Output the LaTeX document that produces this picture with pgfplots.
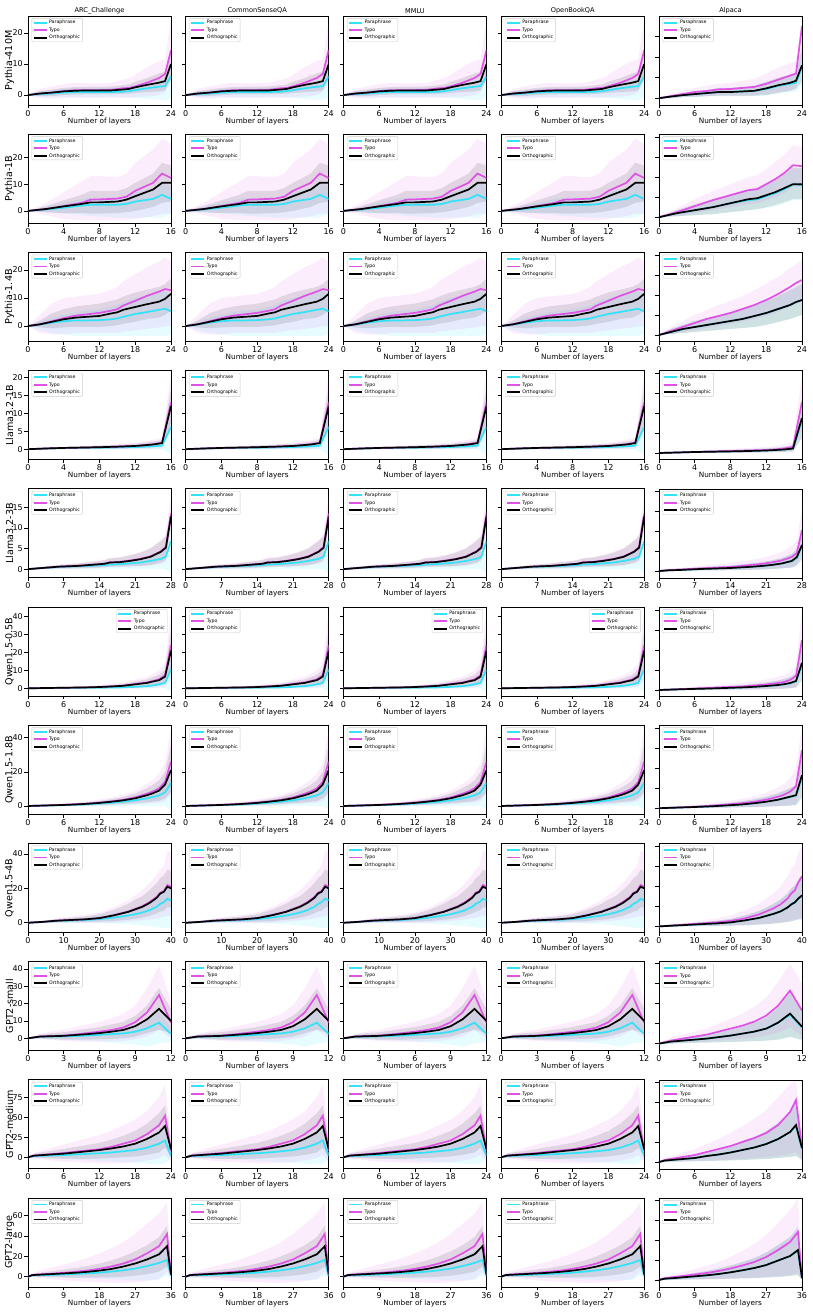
\documentclass[border=0pt]{standalone}
\usepackage{fontspec}
\setmainfont{DejaVu Sans}
\usepackage{pgfplots}
\usepackage{pgfplotstable}
\pgfplotsset{compat=1.18}
\usepgfplotslibrary{groupplots,fillbetween}
\definecolor{pcol}{HTML}{30E3F8}
\definecolor{tcol}{HTML}{E051E6}

% ---------- data: x p pl pu t tl tu o ol ou ----------
\pgfplotstableread{
x p pl pu t tl tu o ol ou
0 0 0 0 0 0 0 0 0 0
2 0.3 -0.5 1.2 0.5 -1 2 0.5 -0.3 1.3
4 0.5 -0.7 1.6 0.8 -1.2 2.8 0.8 -0.3 1.8
6 0.8 -0.6 2.0 1.3 -1 3.5 1.2 0 2.3
8 1.0 -0.6 2.2 1.6 -0.9 4 1.4 0.2 2.6
10 1.0 -0.6 2.2 1.6 -0.9 3.8 1.5 0.3 2.7
12 1.0 -0.6 2.2 1.6 -0.9 3.8 1.5 0.3 2.7
14 1.0 -0.6 2.3 1.7 -0.8 4 1.5 0.3 2.8
16 1.1 -0.7 2.5 2.2 -0.8 5 1.8 0.4 3.2
17 1.3 -0.8 2.7 2.3 -0.8 5.5 2.0 0.5 3.5
18 1.6 -1 3.2 2.8 -0.6 6.5 2.5 0.7 4.3
20 2.2 -1.3 4.0 4.0 -0.5 9 3.3 1 5.5
22 2.7 -1.5 4.8 5.5 0 11 4.0 1.2 7
23 2.9 -1.6 5.0 6.8 1 11.5 4.5 1.5 7.5
24 6.0 -1.0 9.5 14.5 5 24 10.0 5 15
}\TabRa
\pgfplotstableread{
x p pl pu t tl tu o ol ou
0 0 0 0 0 0 0 0 0 0
2 0.5 -0.5 1.5 0.7 -1.5 3 0.7 -0.5 1.8
4 1.2 -1 3 1.8 -3 7 1.7 -0.8 4
6 2 -1.5 4.5 3 -3.5 11 2.6 -0.8 6
7 2.3 -2 5 4.2 -3.5 13 3.2 -1 7.5
8 2.3 -2 5 4.3 -3.5 13 3.2 -1 7.5
10 2.3 -2.5 5 4.6 -3.5 12.5 3.5 -0.8 7.5
11 2.6 -2.5 5.5 5.3 -3.5 14 4.2 -0.5 8.5
12 3.5 -2.5 7 7.5 -3 18 5.5 0 10.5
14 4.5 -2.5 8.5 10.5 -2 23 8 1.5 14
15 6 -2.5 11 14 -1 27 10.5 3 18
16 4.5 -1 9 12.3 -1 25 10.5 3.5 17
}\TabRb
\pgfplotstableread{
x p pl pu t tl tu o ol ou
0 0 0 0 0 0 0 0 0 0
2 0.5 -1.5 1.5 0.6 -2.5 4 0.6 -0.5 2
4 1.2 -2.5 3 1.7 -3 8 1.5 -0.8 4.5
6 1.7 -3 4 2.8 -3 10 2.4 -0.5 6
8 2.0 -3.5 5 3.7 -2.5 10.5 3.0 -0.3 7
10 2.0 -3.5 5.5 4.2 -2.5 11 3.3 -0.3 7.5
12 2.1 -3.5 6 4.7 -2.5 11.5 3.6 -0.3 8
14 2.4 -3.5 7 5.5 -2.5 13 4.5 0 9
15 2.7 -3.5 7.5 6 -2.5 14 4.9 0.3 9.5
16 3.3 -3.5 8.5 7.3 -2 16 5.8 0.8 10.5
18 4.3 -3.5 10 9 -1.5 18.5 6.8 1.5 12
20 5.0 -3.5 11 10.8 -1 21 7.8 2.5 13
22 5.8 -3.5 12 12.3 -0.5 23 8.7 3 14
23 6.2 -3.5 12.5 13.2 0 24.5 9.7 4 15
24 5.2 -3 11 12.8 0 23 11.5 5.5 17
}\TabRc
\pgfplotstableread{
x p pl pu t tl tu o ol ou
0 0 0 0 0 0 0 0 0 0
2 0.15 0 0.25 0.2 0 0.4 0.2 0.05 0.3
4 0.3 0 0.5 0.35 0 0.7 0.35 0.1 0.6
6 0.35 0 0.6 0.45 0 0.9 0.45 0.1 0.8
8 0.4 0 0.7 0.55 0 1.1 0.55 0.15 1
10 0.5 0 0.8 0.7 0 1.4 0.7 0.2 1.2
12 0.6 0 1.0 0.9 0 1.8 0.9 0.3 1.5
13 0.7 0 1.1 1.1 0 2.2 1.1 0.4 1.8
14 0.8 0 1.3 1.4 0.1 2.6 1.3 0.5 2.1
15 1.0 0 1.6 1.8 0.2 3.2 1.7 0.7 2.6
16 6.2 -1.5 10 13 5 21 12 7 17
}\TabRd
\pgfplotstableread{
x p pl pu t tl tu o ol ou
0 0 0 0 0 0 0 0 0 0
2 0.2 0 0.3 0.2 0 0.5 0.2 0.05 0.4
4 0.35 0 0.6 0.4 0.05 0.8 0.4 0.1 0.7
6 0.5 0 0.8 0.6 0.1 1.1 0.6 0.2 1
8 0.6 0 1 0.7 0.1 1.3 0.7 0.2 1.2
10 0.7 0 1.1 0.85 0.15 1.5 0.8 0.25 1.4
12 0.8 0 1.3 1.0 0.2 1.8 1.0 0.3 1.7
14 0.9 0 1.5 1.2 0.3 2.1 1.2 0.4 2
15 1.0 0 1.6 1.35 0.35 2.3 1.3 0.45 2.2
16 1.1 0 1.8 1.65 0.5 2.7 1.6 0.6 2.6
18 1.2 0 2 1.75 0.55 3 1.7 0.65 2.8
20 1.4 0 2.3 2.1 0.6 3.5 2.0 0.7 3.3
22 1.6 0 2.7 2.5 0.7 4.2 2.4 0.8 4
24 2.0 0 3.3 3.1 0.9 5.2 3.0 1.0 5
26 2.5 0 4.3 4.3 1.3 7 4.2 1.6 6.8
27 3.0 0 5.3 5.4 1.8 8.5 5.2 2.3 8
28 6.8 -1 10 13.5 10 18 12.8 11 14.5
}\TabRe
\pgfplotstableread{
x p pl pu t tl tu o ol ou
0 0 0 0 0 0 0 0 0 0
2 0.05 0 0.1 0.1 0 0.3 0.1 0 0.2
4 0.1 0 0.2 0.2 0 0.5 0.2 0 0.4
6 0.15 0 0.3 0.3 0 0.7 0.3 0.05 0.6
8 0.2 0 0.4 0.45 0 1 0.4 0.1 0.8
10 0.25 0 0.5 0.55 0 1.3 0.5 0.1 1
12 0.3 0 0.6 0.75 0 1.7 0.7 0.15 1.3
14 0.4 0 0.8 1.1 0 2.3 1.0 0.2 1.8
16 0.5 0 1 1.5 0 3.2 1.4 0.3 2.5
18 0.8 0 1.5 2.4 0 4.8 2.2 0.6 3.8
20 1.2 0 2.2 3.3 0 6.5 3.0 1 5
21 1.6 0 2.9 4.1 0.3 8 3.8 1.4 6.2
22 2.2 0 3.8 5 0.5 10 4.5 1.6 7.5
23 3.0 0 5 7.2 1 14 6.5 2.5 10.5
24 10.5 -2 17 24 5 43 21 10 32
}\TabRf
\pgfplotstableread{
x p pl pu t tl tu o ol ou
0 0 0 0 0 0 0 0 0 0
2 0.15 0 0.3 0.2 0 0.5 0.2 0 0.4
4 0.3 0 0.6 0.45 0 1 0.4 0.05 0.8
6 0.5 0 0.9 0.7 0 1.5 0.6 0.1 1.2
8 0.7 0 1.3 1.0 0 2 0.9 0.2 1.6
10 1.0 0 1.8 1.4 0.1 2.8 1.3 0.3 2.2
12 1.4 0 2.5 2.0 0.2 3.8 1.8 0.5 3
14 1.9 0 3.3 2.7 0.4 5 2.5 0.8 4
16 2.5 0 4.3 3.6 0.7 6.5 3.3 1.2 5.3
18 3.3 0 5.8 5.0 1 9 4.5 1.6 7.3
20 4.5 0 8 7.2 1.5 13 6.3 2.2 10.5
21 5.3 0 9.5 8.5 1.8 15.5 7.5 2.6 12.5
22 6.2 0 11 10.3 2 19 9 3 15
23 8.0 0 14 14 3 25 12.5 4.5 20
24 13.5 -2.4 23 26 7 45 21 8 36
}\TabRg
\pgfplotstableread{
x p pl pu t tl tu o ol ou
0 0 0 0 0 0 0 0 0 0
4 0.4 0 0.8 0.5 0 1.2 0.5 0.1 1
8 1 0 1.8 1.2 0 2.5 1.2 0.3 2.2
12 1.3 0 2.4 1.6 0 3.5 1.6 0.4 3
16 1.6 0 3 2 0 4.5 2 0.5 3.7
20 2.1 0 4 2.7 0 6 2.7 0.7 5
24 3.0 -0.5 5.5 4.4 0 9 4.3 1 7.5
28 4.2 -1 7.5 6.5 0.5 13 6.3 1.8 11
30 5 -1.2 9 8 1 16 7.8 2.2 13.5
32 6 -1.5 10.5 9.6 1.5 19 9.3 3 15.5
34 7.3 -2 12.5 12 2 23 11.5 4 19
36 9.3 -2.5 15.5 15 2.5 28 14.5 5.5 23
37 11 -2.8 18 17.5 3 31 17 6.5 26
38 12 -3 19 18.5 3.5 33 18 7 27.5
39 14 -3.2 22 22 4 42 21 9 31
40 13 -3 21 21 4 41 20 9 30
}\TabRh
\pgfplotstableread{
x p pl pu t tl tu o ol ou
0 0 0 0 0 0 0 0 0 0
1 0.8 -0.2 1.7 1 -0.5 2.5 1 0 2
2 1 -0.5 2.2 1.3 -1 4 1.2 -0.5 3
3 1.1 -0.8 2.5 1.6 -1.5 5 1.4 -0.8 3.5
4 1.3 -1.2 3 2.2 -2 6.5 1.9 -0.8 4.5
5 1.6 -1.5 3.6 3 -2 8 2.4 -0.8 5.5
6 2 -1.8 4.3 3.8 -2 9.5 3 -0.5 6.5
7 2.4 -2.5 5 4.8 -1.8 11.5 3.8 -0.3 8
8 2.8 -3 5.8 6.2 -1.5 14 4.8 0 9.5
9 3.8 -3.5 7.5 9.3 -0.5 19 7 1 13
10 5.8 -4.8 11 15 1 29 11 3 19
11 9 -3 16 25 5 42 17 5 29
12 2.5 -2 6 9 0 22 10 3 17
}\TabRi
\pgfplotstableread{
x p pl pu t tl tu o ol ou
0 0 0 0 0 0 0 0 0 0
1 1.5 0 3 2 -1.5 5 2 -0.5 4.5
2 1.8 -0.5 3.5 2.8 -2 7.5 2.5 -1 6
4 2.3 -1.2 4.5 4 -4 12 3.5 -1.5 8
6 2.8 -2 5.5 5.3 -5.5 16 4.5 -2 10.5
8 3.5 -2.8 7 7 -6 20 6 -2 13
10 4.3 -3.5 8.5 8.5 -7 24 7.5 -2 15.5
12 5 -4.5 10 10 -7.5 28 9 -1.5 18
14 6 -5 12 13 -7.5 33 11 -1 22
16 7.5 -6 15 17 -7 40 13.5 0 27
18 9 -7 18 21 -6 47 17 1 33
20 12 -8 23 29 -4 58 23 3 42
22 17 -9 32 40 -1 75 31 6 55
23 21 -8 39 52 3 91 39 12 65
24 2 -2 5 8 -5 25 10 0 20
}\TabRj
\pgfplotstableread{
x p pl pu t tl tu o ol ou
0 0 0 0 0 0 0 0 0 0
1 1.2 0 2 1.5 -0.5 3 1.5 0.3 2.5
2 1.4 0 2.5 2 -1 5 1.8 0 3.5
4 1.6 -0.2 3 2.5 -1.5 7 2.2 -0.3 4.5
6 1.8 -0.5 3.5 3 -2.5 9 2.6 -0.5 5.5
9 2.2 -0.8 4.5 3.8 -3.5 12 3.2 -0.8 7
12 2.7 -1 5.5 4.8 -4.5 15 3.9 -1 8.5
15 3.3 -1.5 7 6 -5 18.5 4.8 -1 10.5
18 4 -2 8.5 7.8 -5.5 23 6 -0.8 13
21 5 -2.5 10.5 10 -6 28 7.6 -0.5 16
24 6.3 -3 13 13 -6 34 10 0 20
27 8 -3.5 16 17 -5.5 42 13 1 25
30 10.5 -3.5 20 23 -4.5 52 17 2.5 31
33 13.5 -3 25 30 -2 62 22 5 39
35 16.5 1 30 42 5 73 30 10 50
36 1 -1 3 3 -2 10 2 0 6
}\TabRk
% ---------- Alpaca ----------
\pgfplotstableread{
x p pl pu t tl tu o ol ou
0 0 0 0 0 0 0 0 0 0
2 0.8 0 1.5 1 0 2 0.8 0 1.5
4 1.5 0.5 2.5 2 0.5 3.5 1.5 0.5 2.5
6 2 0.5 3.5 3 1 5 2 0.5 3.5
8 2.5 1 4 3.5 1 6 2.5 1 4
10 3 1 5 4.3 1.5 7 3 1 5
12 3 1 5 4.5 1.5 7.5 3 1 5
14 3.3 1 5.5 5 1.5 8.5 3.3 1 5.5
16 3.5 1 6 5.5 1.5 9.5 3.6 1.2 6
18 4.5 1.2 7.8 7 2 12 4.8 1.5 8
20 6 2.5 9.5 9 3 15 6.3 2.5 10
22 7 3 11 11 4 17 7.5 3.5 11.5
23 7.5 3 12 12 5 18 8.5 4.5 12.5
24 15 6 24 35 20 38 16 8 25
}\TabAa
\pgfplotstableread{
x p pl pu t tl tu o ol ou
0 0 0 0 0 0 0 0 0 0
2 4 1 7 5 1 9 4 1 7
4 7 2 12 11 4 18 7 2 13
6 10 3 17 17 7 26 10 3 18
8 14 5 22 22 10 33 14 5 23
10 17 7 27 27 13 40 18 7 28
11 18 8 28 28 14 42 19 8 30
12 21 9 32 33 17 48 22 10 34
13 24 11 36 38 20 55 25 12 38
14 28 14 42 44 24 62 29 15 43
15 33 17 49 52 30 72 33 18 50
16 32 17 48 51 30 70 33 18 49
}\TabAb
\pgfplotstableread{
x p pl pu t tl tu o ol ou
0 0 0 0 0 0 0 0 0 0
2 3 1 6 4 1 8 3 1 6
4 6 2 10 8 3 14 6 2 10
6 8 3 14 12 5 20 8 3 14
8 10 4 17 16 7 25 10 4 17
10 12 5 20 19 9 30 12 5 20
12 14 6 23 22 11 34 14 6 23
14 16 7 26 26 13 39 16 7 26
16 19 8 30 30 16 45 19 8 30
18 22 10 34 35 19 51 22 10 34
20 26 13 39 41 23 58 26 13 39
22 30 16 45 48 28 67 30 16 45
23 33 18 48 52 31 71 33 18 48
24 35 20 51 55 33 75 35 20 51
}\TabAc
\pgfplotstableread{
x p pl pu t tl tu o ol ou
0 0 0 0 0 0 0 0 0 0
2 0.5 0 1 0.5 0 1 0.5 0 1
4 1 0.2 1.7 1 0 2 1 0.2 1.7
6 1.3 0.3 2.4 1.5 0 3 1.3 0.3 2.4
8 1.6 0.4 3 2 0 4 1.6 0.4 3
10 2 0.5 3.7 2.5 0 5 2 0.5 3.7
12 2.5 0.7 4.5 3 0.5 6 2.5 0.7 4.5
13 3 1 5.2 3.5 0.7 7 3 1 5.2
14 3.5 1.2 6 4.5 1 8.5 3.5 1.2 6
15 4.5 1.5 8 6 2 11 4.5 1.5 8
16 33 15 52 51 25 78 35 15 55
}\TabAd
\pgfplotstableread{
x p pl pu t tl tu o ol ou
0 0 0 0 0 0 0 0 0 0
2 0.7 0 1.5 1 0 2 0.7 0 1.5
4 1 0.2 2 1.5 0 3 1 0.2 2
6 1.5 0.3 3 2 0.5 4 1.5 0.3 3
8 2 0.5 3.7 2.5 0.5 5 2 0.5 3.7
10 2.3 0.6 4.3 3 0.7 6 2.3 0.6 4.3
12 2.7 0.7 5 3.5 0.8 7 2.7 0.7 5
14 3 0.8 5.5 4 1 8 3 0.8 5.5
16 3.6 1 6.5 5 1.2 9.5 3.6 1 6.5
18 4.2 1.2 7.5 6 1.5 11 4.2 1.2 7.5
20 5 1.5 8.8 7 1.8 13 5 1.5 8.8
22 6 2 10.5 8.5 2.2 15.5 6 2 10.5
24 7.5 2.5 13 10.5 3 19 7.5 2.5 13
26 10 3.5 17 14 4 25 10 3.5 17
27 13 5 21 18 6 31 14 6 22
28 25 11 40 41 22 62 26 12 42
}\TabAe
\pgfplotstableread{
x p pl pu t tl tu o ol ou
0 0 0 0 0 0 0 0 0 0
2 0.4 0 0.8 0.5 0 1 0.4 0 0.8
4 0.8 0.1 1.5 1 0 2 0.8 0.1 1.5
6 1.1 0.2 2.2 1.5 0 3 1.1 0.2 2.2
8 1.4 0.3 2.8 2 0 4 1.4 0.3 2.8
10 1.8 0.4 3.5 2.5 0 5 1.8 0.4 3.5
12 2.2 0.5 4.2 3 0 6 2.2 0.5 4.2
14 2.6 0.6 5 3.5 0 7 2.6 0.6 5
16 3.2 0.8 6 4.5 0.2 8.5 3.2 0.8 6
18 4 1 7.5 5.5 0.5 10.5 4 1 7.5
20 5 1.3 9.5 7 1 13 5 1.3 9.5
21 5.7 1.5 11 8 1.2 15 5.8 1.5 11
22 6.8 2 13 10 1.5 18 7 2 13
23 8.5 2.5 16.5 14 2.5 25 9 2.5 16.5
24 25 9 43 50 20 80 27 10 45
}\TabAf
\pgfplotstableread{
x p pl pu t tl tu o ol ou
0 0 0 0 0 0 0 0 0 0
2 0.4 0 0.8 0.5 0 1 0.4 0 0.8
4 0.8 0.1 1.5 1 0 2 0.8 0.1 1.5
6 1.2 0.2 2.3 1.5 0 3 1.2 0.2 2.3
8 1.7 0.3 3.2 2.2 0 4.5 1.7 0.3 3.2
10 2.3 0.5 4.3 3 0.2 6 2.3 0.5 4.3
12 3 0.7 5.5 4 0.5 7.5 3 0.7 5.5
14 3.8 0.9 7 5 0.8 9.5 3.8 0.9 7
16 5 1.2 9 6.5 1 12 5 1.2 9
18 6.5 1.6 11.5 8.5 1.5 15.5 6.5 1.6 11.5
20 8.5 2 15 11.5 2 21 8.5 2 15
21 9.8 2.3 17.5 13.5 2.5 24.5 10 2.3 17.5
22 11.3 2.6 20 16.5 3 30 11.5 2.6 20
23 12.8 3 23 22 4 40 13 3 23
24 31 10 52 58 25 83 33 11 55
}\TabAg
\pgfplotstableread{
x p pl pu t tl tu o ol ou
0 0 0 0 0 0 0 0 0 0
4 0.8 0 1.6 1 0 2 0.8 0 1.6
8 1.5 0.2 3 2 0.2 4 1.5 0.2 3
12 2.3 0.4 4.3 3 0.4 6 2.3 0.4 4.3
16 3 0.6 5.6 4 0.6 8 3 0.6 5.6
20 4 0.8 7.5 5.5 0.8 11 4 0.8 7.5
24 6 1.2 11 8 1.2 16 6 1.2 11
28 8.5 1.8 15.5 12 2 23 8.5 1.8 15.5
30 10.5 2.3 19 15 2.5 28 10.5 2.3 19
32 12.5 2.8 22.5 18 3 33 12.5 2.8 22.5
34 15 3.5 27 22 4 40 15 3.5 27
36 19 4.5 33 28 5 50 19 4.5 33
37 22 5 38 33 6 58 22 5 38
38 24 6 41 36 7 62 24 6 41
39 28 7 47 44 8 74 28 7 47
40 30 7 50 50 9 80 31 7 52
}\TabAh
\pgfplotstableread{
x p pl pu t tl tu o ol ou
0 0 0 0 0 0 0 0 0 0
1 2 0 4 3 0 6 2 0 4
2 3 0.5 6 5 1 9 3 0.5 6
3 4 0.8 7.5 7 1.5 12 4 0.8 7.5
4 5 1 9 9 2 15 5 1 9
5 6.5 1.3 11.5 12 3 20 6.5 1.3 11.5
6 8 1.6 14 15 4 25 8 1.6 14
7 10 2 17 18 5 30 10 2 17
8 12 2.5 21 22 6 37 12 2.5 21
9 15 3 26 28 8 46 15 3 26
10 21 4 36 38 11 62 21 4 36
11 29 6 50 53 16 80 30 7 52
12 16 3 30 33 8 60 17 4 32
}\TabAi
\pgfplotstableread{
x p pl pu t tl tu o ol ou
0 0 0 0 0 0 0 0 0 0
1 1.5 0 3 2 0 4 1.5 0 3
2 2 0.3 4 3 0.3 6 2 0.3 4
4 3 0.5 5.5 5 0.5 9.5 3 0.5 5.5
6 4 0.8 7.5 7 1 13 4 0.8 7.5
8 6 1 10.5 10 1.5 18 6 1 10.5
10 7.5 1.3 13 13 2 23 7.5 1.3 13
12 9.5 1.6 16.5 16 2.5 29 9.5 1.6 16.5
14 12 2 21 20 3 36 12 2 21
16 14.5 2.5 25 24 4 43 14.5 2.5 25
18 18 3 31 29 5 52 18 3 31
20 23 4 39 37 6 65 23 4 39
22 30 5 50 50 8 78 30 5 50
23 36 6 60 62 10 82 37 6 62
24 13 2 24 14 3 30 14 2 25
}\TabAj
\pgfplotstableread{
x p pl pu t tl tu o ol ou
0 0 0 0 0 0 0 0 0 0
1 1 0 2 1.5 0 3 1 0 2
2 1.5 0 3 2 0 4 1.5 0 3
4 2 0.2 4 3 0.3 6 2 0.2 4
6 2.7 0.4 5 4 0.5 8 2.7 0.4 5
9 3.7 0.6 7 5.5 0.8 11 3.7 0.6 7
12 4.7 0.8 9 7 1 14 4.7 0.8 9
15 6 1 11.5 9 1.3 18 6 1 11.5
18 7.7 1.3 14.5 11.5 1.6 23 7.7 1.3 14.5
21 9.7 1.6 18 14.5 2 29 9.7 1.6 18
24 12 2 22 18 2.5 36 12 2 22
27 15 2.5 27.5 23 3 45 15 2.5 27.5
30 19.5 3 35 30 4 57 19.5 3 35
33 24 4 43 38 5 70 24 4 43
35 29 5 51 48 7 82 30 5 53
36 2 0 4 2 0 4 2 0 4
}\TabAk

\pgfplotsset{
  xr1/.style={xmin=0,xmax=24,xtick={0,6,12,18,24}},
  xr2/.style={xmin=0,xmax=16,xtick={0,4,8,12,16}},
  xr3/.style={xmin=0,xmax=24,xtick={0,6,12,18,24}},
  xr4/.style={xmin=0,xmax=16,xtick={0,4,8,12,16}},
  xr5/.style={xmin=0,xmax=28,xtick={0,7,14,21,28}},
  xr6/.style={xmin=0,xmax=24,xtick={0,6,12,18,24}},
  xr7/.style={xmin=0,xmax=24,xtick={0,6,12,18,24}},
  xr8/.style={xmin=0,xmax=40,xtick={0,10,20,30,40}},
  xr9/.style={xmin=0,xmax=12,xtick={0,3,6,9,12}},
  xr10/.style={xmin=0,xmax=24,xtick={0,6,12,18,24}},
  xr11/.style={xmin=0,xmax=36,xtick={0,9,18,27,36}},
  yr1/.style={ymin=-3.2,ymax=25.5,ytick={0,10,20}},
  yr2/.style={ymin=-4.6,ymax=28.7,ytick={0,10,20}},
  yr3/.style={ymin=-5.5,ymax=26.3,ytick={0,10,20}},
  yr4/.style={ymin=-2.9,ymax=21.9,ytick={0,5,10,15,20}},
  yr5/.style={ymin=-2.1,ymax=19.5,ytick={0,5,10,15}},
  yr6/.style={ymin=-4.3,ymax=45.4,ytick={0,10,20,30,40}},
  yr7/.style={ymin=-4.8,ymax=47.3,ytick={0,20,40}},
  yr8/.style={ymin=-5.6,ymax=46.2,ytick={0,20,40}},
  yr9/.style={ymin=-7.1,ymax=44.3,ytick={0,10,20,30,40}},
  yr10/.style={ymin=-14.4,ymax=96.9,ytick={0,25,50,75}},
  yr11/.style={ymin=-10.1,ymax=77.4,ytick={0,20,40,60}},
  ar1/.style={ymin=-3.3,ymax=40,ytick={0,10,20,30}},
  ar2/.style={ymin=-6,ymax=83,ytick={0,20,40,60,80}},
  ar3/.style={ymin=-6.4,ymax=82.6,ytick={0,20,40,60,80}},
  ar4/.style={ymin=-6.6,ymax=82.4,ytick={0,20,40,60,80}},
  ar5/.style={ymin=-6.8,ymax=82.2,ytick={0,20,40,60,80}},
  ar6/.style={ymin=-6,ymax=83,ytick={0,20,40,60,80}},
  ar7/.style={ymin=-6,ymax=83,ytick={0,20,40,60,80}},
  ar8/.style={ymin=-6,ymax=83,ytick={0,20,40,60,80}},
  ar9/.style={ymin=-7,ymax=82,ytick={0,20,40,60,80}},
  ar10/.style={ymin=-6.8,ymax=82.2,ytick={0,20,40,60,80}},
  ar11/.style={ymin=-7,ymax=82,ytick={0,20,40,60,80}},
  legright/.style={legend style={at={(0.975,0.975)},anchor=north east}},
  legend image code/.code={\draw[#1,line width=1.9pt] (0pt,0pt) -- (13pt,0pt);},
}

\newcommand\drawpanel[1]{%
  \addplot[draw=none,forget plot,name path=pu] table[x=x,y=pu]{#1};
  \addplot[draw=none,forget plot,name path=pl] table[x=x,y=pl]{#1};
  \addplot[fill=pcol,fill opacity=0.12,draw=none,forget plot] fill between[of=pu and pl];
  \addplot[draw=none,forget plot,name path=tu] table[x=x,y=tu]{#1};
  \addplot[draw=none,forget plot,name path=tl] table[x=x,y=tl]{#1};
  \addplot[fill=tcol,fill opacity=0.1,draw=none,forget plot] fill between[of=tu and tl];
  \addplot[draw=none,forget plot,name path=ou] table[x=x,y=ou]{#1};
  \addplot[draw=none,forget plot,name path=ol] table[x=x,y=ol]{#1};
  \addplot[fill=black,fill opacity=0.1,draw=none,forget plot] fill between[of=ou and ol];
  \addplot[pcol,line width=1.7pt] table[x=x,y=p]{#1}; \addlegendentry{Paraphrase}
  \addplot[tcol,line width=1.7pt] table[x=x,y=t]{#1}; \addlegendentry{Typo}
  \addplot[black,line width=1.7pt] table[x=x,y=o]{#1}; \addlegendentry{Orthographic}
}

\newcommand\panelrow[9]{%
  \nextgroupplot[xr#1,yr#1,ylabel={#2},#5]\drawpanel{#3}
  \nextgroupplot[xr#1,yr#1,yticklabels={},#6]\drawpanel{#3}
  \nextgroupplot[xr#1,yr#1,yticklabels={},#7]\drawpanel{#3}
  \nextgroupplot[xr#1,yr#1,yticklabels={},#8]\drawpanel{#3}
  \nextgroupplot[xr#1,ar#1,yticklabels={},#9]\drawpanel{#4}
}

\begin{document}
\begin{tikzpicture}
\begin{groupplot}[
  group style={group size=5 by 11, horizontal sep=14.75pt, vertical sep=29.2pt},
  width=143pt, height=89pt, scale only axis,
  xlabel={Number of layers},
  every axis x label/.style={at={(axis description cs:0.5,-0.18)},anchor=center,font=\fontsize{7.3}{8}\selectfont},
  every axis y label/.style={at={(axis description cs:-0.129,0.5)},rotate=90,anchor=center,font=\fontsize{9.6}{10}\selectfont},
  every axis title/.style={at={(axis description cs:0.5,1)},anchor=south,inner sep=2pt,font=\fontsize{6.6}{7}\selectfont},
  tick label style={font=\fontsize{8}{9}\selectfont},
  /pgf/number format/assume math mode=true,
  tick align=outside, major tick length=3.5pt,
  tick style={black,line width=0.6pt},
  xtick pos=bottom, ytick pos=left,
  axis line style={line width=0.6pt},
  xticklabel style={inner sep=1.5pt},
  yticklabel style={inner sep=1.5pt},
  legend cell align=left,
  legend style={at={(0.025,0.975)},anchor=north west,
    font=\fontsize{4.7}{5}\selectfont,
    draw=black!20, rounded corners=1pt, fill=white, fill opacity=0.8, text opacity=1,
    inner xsep=0.8pt, inner ysep=1.5pt, row sep=2.2pt,
    nodes={inner xsep=1.6pt, inner ysep=0pt, text height=4pt, text depth=1.3pt}},
]
\panelrow{1}{Pythia-410M}{\TabRa}{\TabAa}{title={ARC\_Challenge},extra description/.code={\coordinate (TL) at (0,1);}}{title={CommonSenseQA}}{title={MMLU}}{title={OpenBookQA}}{title={Alpaca}}
\panelrow{2}{Pythia-1B}{\TabRb}{\TabAb}{}{}{}{}{}
\panelrow{3}{Pythia-1.4B}{\TabRc}{\TabAc}{}{}{}{}{}
\panelrow{4}{Llama3.2-1B}{\TabRd}{\TabAd}{}{}{}{}{}
\panelrow{5}{Llama3.2-3B}{\TabRe}{\TabAe}{}{}{}{}{}
\panelrow{6}{Qwen1.5-0.5B}{\TabRf}{\TabAf}{legright}{}{legright}{legright}{}
\panelrow{7}{Qwen1.5-1.8B}{\TabRg}{\TabAg}{}{}{}{}{}
\panelrow{8}{Qwen1.5-4B}{\TabRh}{\TabAh}{}{}{}{}{}
\panelrow{9}{GPT2-small}{\TabRi}{\TabAi}{}{}{}{}{}
\panelrow{10}{GPT2-medium}{\TabRj}{\TabAj}{}{}{}{}{}
\panelrow{11}{GPT2-large}{\TabRk}{\TabAk}{}{}{}{}{extra description/.code={\coordinate (BR) at (1,0);}}
\end{groupplot}
\path ([xshift=-28pt,yshift=16pt]TL) rectangle ([xshift=11pt,yshift=-26pt]BR);
\end{tikzpicture}
\end{document}
